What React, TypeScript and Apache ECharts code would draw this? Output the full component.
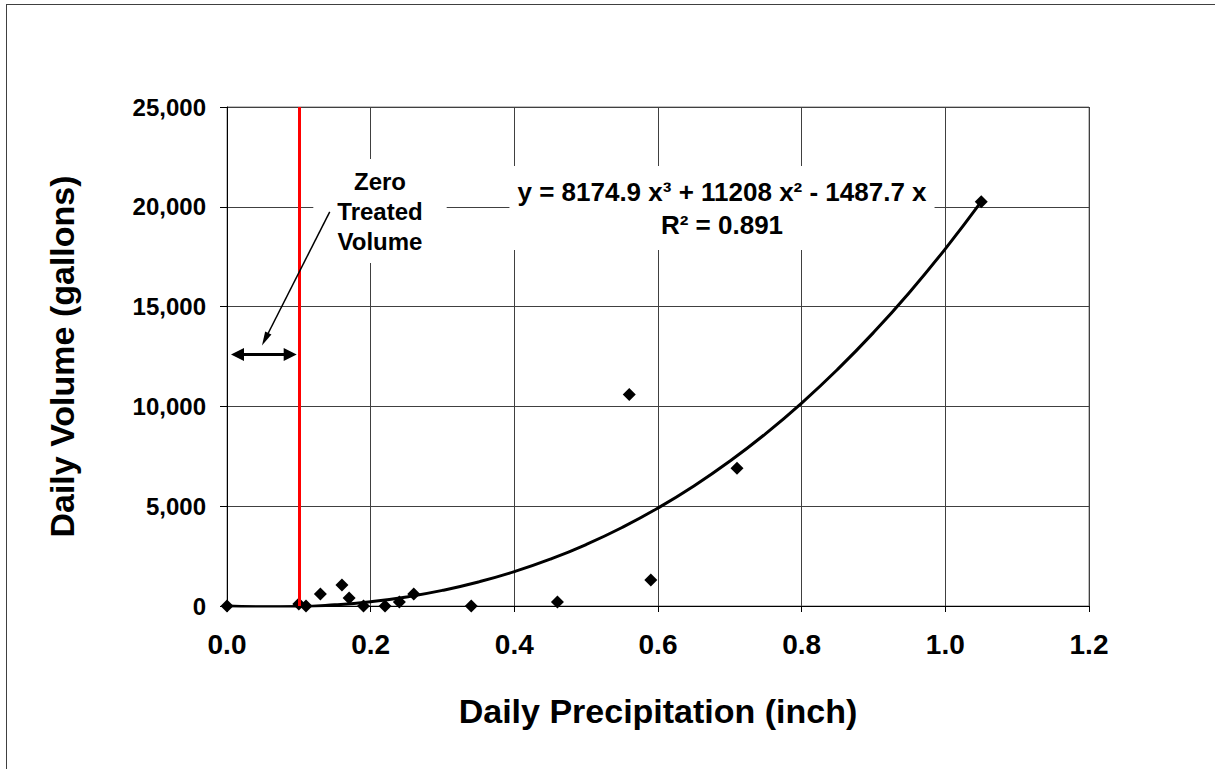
import React, { useEffect, useRef } from "react";
import * as echarts from "echarts";

// Observed data points (Daily Precipitation [inch], Daily Volume [gallons])
const precipitation = [0, 0.1, 0.11, 0.13, 0.16, 0.17, 0.19, 0.22, 0.24, 0.26, 0.34, 0.46, 0.56, 0.59, 0.71, 1.05];
const volume = [0, 100, 0, 600, 1050, 400, 0, 0, 200, 600, 0, 200, 10600, 1300, 6900, 20250];

// Trendline
const trendX = [0, 0.05, 0.1, 0.15, 0.2, 0.25, 0.3, 0.35, 0.4, 0.45, 0.5, 0.55, 0.6, 0.65, 0.7, 0.75, 0.8, 0.85, 0.9, 0.95, 1.0, 1.05];
const trendY = [0, -40, -30, 57, 216, 456, 783, 1203, 1721, 2345, 3080, 3932, 4908, 6013, 7255, 8638, 10169, 11854, 13699, 15711, 17895, 20258];

// Threshold and annotation arrows (data coordinates)
const thresholdX = 0.1;
const doubleArrow = [[0.0146, 12600], [0.088, 12600]];
const pointerArrow = [[0.143, 19750], [0.0531, 13365]];

// Axis settings
const xMin = 0, xMax = 1.2, xStep = 0.2;
const yMin = 0, yMax = 25000, yStep = 5000;

const xTitle = "Daily Precipitation (inch)";
const yTitle = "Daily Volume (gallons)";
const annotationText = "Zero\nTreated\nVolume";
const equationText = "y = 8174.9 x\u00B3 + 11208 x\u00B2 - 1487.7 x\nR\u00B2 = 0.891";

const FONT = "'Liberation Sans', Arial, sans-serif";

export default function App() {
  const ref = useRef<HTMLDivElement>(null);

  useEffect(() => {
    document.body.style.margin = "0";
    if (!ref.current) return;
    const chart = echarts.init(ref.current, null, { renderer: "svg" });

    const scatterData = precipitation.map((x, i) => [x, volume[i]]);
    const trendData = trendX.map((x, i) => [x, trendY[i]]);

    chart.setOption({
      animation: false,
      backgroundColor: "#ffffff",
      textStyle: { fontFamily: FONT },
      grid: {
        left: 227,
        top: 107,
        right: 126,
        bottom: 163,
        show: true,
        borderColor: "#808080",
        borderWidth: 1,
        backgroundColor: "transparent",
      },
      xAxis: {
        type: "value",
        min: xMin,
        max: xMax,
        interval: xStep,
        name: xTitle,
        nameLocation: "middle",
        nameGap: 88,
        nameTextStyle: { fontSize: 34, fontWeight: "bold", color: "#000", fontFamily: FONT },
        axisLine: { show: true, onZero: false, lineStyle: { color: "#000", width: 1 } },
        axisTick: { show: true, inside: false, length: 6, lineStyle: { color: "#000" } },
        axisLabel: {
          fontSize: 28,
          fontWeight: "bold",
          color: "#000",
          fontFamily: FONT,
          margin: 24,
          formatter: (v: number) => v.toFixed(1),
        },
        splitLine: { show: true, lineStyle: { color: "#404040", width: 1 } },
      },
      yAxis: {
        type: "value",
        min: yMin,
        max: yMax,
        interval: yStep,
        name: yTitle,
        nameLocation: "middle",
        nameRotate: 90,
        nameGap: 148,
        nameTextStyle: { fontSize: 34, fontWeight: "bold", color: "#000", fontFamily: FONT },
        axisLine: { show: true, onZero: false, lineStyle: { color: "#000", width: 1 } },
        axisTick: { show: true, inside: false, length: 7, lineStyle: { color: "#000" } },
        axisLabel: {
          fontSize: 24,
          fontWeight: "bold",
          color: "#000",
          fontFamily: FONT,
          margin: 21,
          formatter: (v: number) => v.toLocaleString("en-US"),
        },
        splitLine: { show: true, lineStyle: { color: "#404040", width: 1 } },
      },
      graphic: [
        {
          type: "line",
          z: 1,
          silent: true,
          shape: { x1: 6, y1: 4.5, x2: 1215, y2: 4.5 },
          style: { stroke: "#404040", lineWidth: 1 },
        },
        {
          type: "line",
          z: 1,
          silent: true,
          shape: { x1: 6.5, y1: 4, x2: 6.5, y2: 769 },
          style: { stroke: "#404040", lineWidth: 1 },
        },
        {
          type: "text",
          z: 1,
          silent: true,
          x: 380,
          y: 211,
          style: {
            text: annotationText,
            align: "center",
            verticalAlign: "middle",
            font: `bold 24px ${FONT}`,
            fill: "#000",
            lineHeight: 30,
            backgroundColor: "#ffffff",
            padding: [7, 24, 7, 24],
          },
        },
        {
          type: "text",
          z: 1,
          silent: true,
          x: 722,
          y: 208,
          style: {
            text: equationText,
            align: "center",
            verticalAlign: "middle",
            font: `bold 26px ${FONT}`,
            fill: "#000",
            lineHeight: 33,
            backgroundColor: "#ffffff",
            padding: [9, 8, 9, 8],
          },
        },
      ],
      series: [
        {
          type: "line",
          data: trendData,
          smooth: true,
          showSymbol: false,
          symbol: "none",
          lineStyle: { color: "#000", width: 3 },
          z: 3,
          markLine: {
            silent: true,
            symbol: ["none", "none"],
            label: { show: false },
            lineStyle: { color: "#ff0000", width: 3, type: "solid" },
            data: [{ xAxis: thresholdX }],
          },
        },
        {
          type: "scatter",
          data: scatterData,
          symbol: "diamond",
          symbolSize: 13,
          itemStyle: { color: "#000", opacity: 1 },
          z: 4,
        },
        {
          type: "line",
          data: [],
          z: 5,
          markLine: {
            silent: true,
            symbol: ["triangle", "triangle"],
            symbolSize: [13, 13],
            label: { show: false },
            lineStyle: { color: "#000", width: 3, type: "solid" },
            data: [[{ coord: doubleArrow[0] }, { coord: doubleArrow[1] }]],
          },
        },
        {
          type: "line",
          data: [],
          z: 5,
          markLine: {
            silent: true,
            symbol: ["none", "triangle"],
            symbolSize: [7, 14],
            label: { show: false },
            lineStyle: { color: "#000", width: 1.5, type: "solid" },
            data: [[{ coord: pointerArrow[0] }, { coord: pointerArrow[1] }]],
          },
        },
      ],
    });

    return () => {
      chart.dispose();
    };
  }, []);

  return <div ref={ref} style={{ width: 1215, height: 769 }} />;
}
